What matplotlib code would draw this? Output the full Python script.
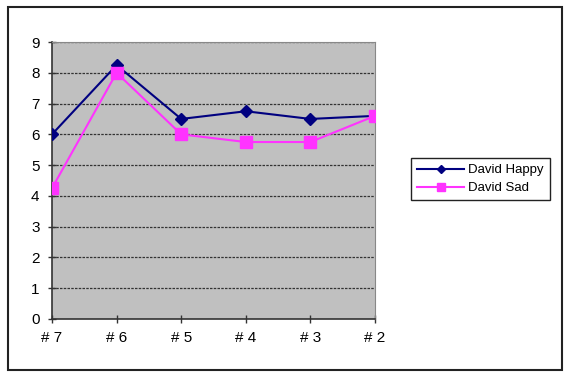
import matplotlib
matplotlib.use('Agg')
import matplotlib.pyplot as plt
from matplotlib.patches import Rectangle

categories = ['# 7', '# 6', '# 5', '# 4', '# 3', '# 2']
david_happy = [6.0, 8.25, 6.5, 6.75, 6.5, 6.6]
david_sad = [4.25, 8.0, 6.0, 5.75, 5.75, 6.6]
y_ticks = [0, 1, 2, 3, 4, 5, 6, 7, 8, 9]

plt.rcParams['font.family'] = ['Liberation Sans', 'DejaVu Sans']

fig = plt.figure(figsize=(5.64, 3.73), dpi=100)
fig.patches.append(Rectangle((8 / 564, 1 - 370 / 373), 554 / 564, 363 / 373,
                             transform=fig.transFigure, fill=False,
                             edgecolor='#222222', linewidth=1.5))

ax = fig.add_axes([52 / 564, 1 - 319 / 373, 323 / 564, 277 / 373])
ax.set_facecolor('#c0c0c0')

x = list(range(len(categories)))
ax.plot(x, david_happy, color='#000080', marker='D', markersize=6,
        linewidth=1.5, label='David Happy', zorder=3)
ax.plot(x, david_sad, color='#ff33ff', marker='s', markersize=8,
        markerfacecolor='#ff33ff', markeredgecolor='#ff33ff',
        linewidth=1.5, label='David Sad', zorder=3)

ax.set_xlim(0, len(categories) - 1)
ax.set_ylim(0, 9)
ax.set_yticks(y_ticks)
ax.set_xticks(x)
ax.set_xticklabels(categories)
ax.tick_params(axis='both', direction='inout', length=6, width=1,
               color='#333333', labelsize=11)
ax.tick_params(axis='y', pad=6)
ax.tick_params(axis='x', pad=6)

for yv in y_ticks[1:]:
    ax.axhline(yv, color='#333333', linestyle=(0, (2, 1)), linewidth=0.9, zorder=1)

ax.spines['left'].set_color('#333333')
ax.spines['bottom'].set_color('#333333')
ax.spines['left'].set_linewidth(1.2)
ax.spines['bottom'].set_linewidth(1.2)
ax.spines['top'].set_color('#888888')
ax.spines['right'].set_color('#888888')

leg = ax.legend(loc='upper left', bbox_to_anchor=(411 / 564, 1 - 158 / 373),
                bbox_transform=fig.transFigure, fontsize=9.5, frameon=True,
                fancybox=False, edgecolor='#222222', framealpha=1,
                handlelength=3.6, borderpad=0.45, labelspacing=0.45,
                handletextpad=0.3, borderaxespad=0, markerscale=0.7)
leg.get_frame().set_linewidth(1.0)

plt.savefig('out.png', dpi=100)
